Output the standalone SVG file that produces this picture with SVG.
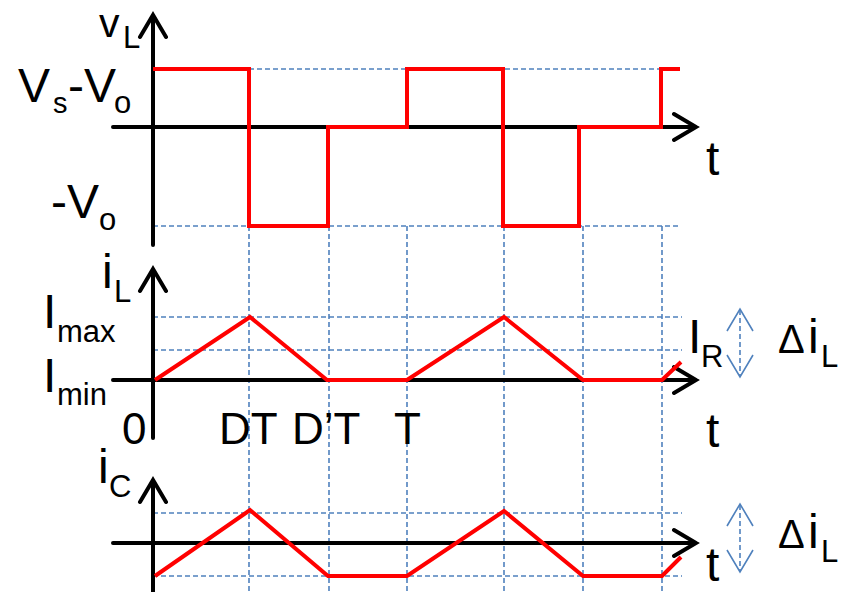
<svg xmlns="http://www.w3.org/2000/svg" width="850" height="592" viewBox="0 0 850 592">
<style>
.ax{fill:none;stroke:#000;stroke-width:4;stroke-linecap:round;stroke-linejoin:miter}
.grid{fill:none;stroke:#4f81bd;stroke-width:1.6;stroke-dasharray:5,3}
.sig{fill:none;stroke:#ff0000;stroke-width:4;stroke-linejoin:miter}
.dbl{fill:none;stroke:#4f81bd;stroke-width:1.6}
text{font-family:"Liberation Sans",Arial,sans-serif;fill:#000}
.big{font-size:48px}
.mid{font-size:44px}
.sub{font-size:31px}
.delta{font-size:40px}
</style>
<rect width="850" height="592" fill="#fff"/>
<g id="grid">
<path class="grid" d="M249,69H681M153,226H681M153,317H682M153,350H682M153,513H682M153,576H682"/>
<path class="grid" d="M249,226V592M329,226V592M407,226V592M504,226V592M583,226V592M662,226V592"/>
</g>
<g id="axes">
<path class="ax" d="M153,15V245M113,127H696M140,37L153,15L166,37M674,114L696,127L674,140"/>
<path class="ax" d="M153,269V438M113,380H696M140,291L153,269L166,291M674,367L696,380L674,393"/>
<path class="ax" d="M153,480V592M113,543H696M140,502L153,480L166,502M674,530L696,543L674,556"/>
</g>
<g id="signals">
<path class="sig" d="M153,69H249V226H328V127H407V69H503V226H579V127H661V69H680"/>
<path class="sig" d="M155,380L250,317L327,380H407L504,317L583,380H662L681,362"/>
<path class="sig" d="M155,576L250,510L328,576H407L504,511L583,576H662L681,557"/>
</g>
<g id="ripple-arrows">
<path class="grid" d="M740,310V376"/>
<path class="dbl" d="M727,331L740,309L753,331M727,355L740,377L753,355"/>
<path class="grid" d="M740,505V571"/>
<path class="dbl" d="M727,526L740,504L753,526M727,550L740,572L753,550"/>
</g>
<g id="labels">
<text y="37" style="font-size:41px"><tspan x="99">v</tspan><tspan class="sub" x="123" y="48">L</tspan></text>
<text class="big" y="102"><tspan x="18">V</tspan><tspan x="53" y="113" style="font-size:29px">s</tspan><tspan x="68" y="102">-V</tspan><tspan class="sub" x="114" y="113">o</tspan></text>
<text class="big" y="218"><tspan x="51">-V</tspan><tspan class="sub" x="99" y="230">o</tspan></text>
<text class="big" y="288"><tspan x="102">i</tspan><tspan class="sub" x="114" y="302">L</tspan></text>
<text class="big" y="328"><tspan x="43">I</tspan><tspan class="sub" x="57" y="342">max</tspan></text>
<text class="big" y="392"><tspan x="43">I</tspan><tspan class="sub" x="57" y="405">min</tspan></text>
<text class="mid" x="122" y="444">0</text>
<text class="mid" x="219" y="444">DT</text>
<text class="mid" x="292" y="444">D’T</text>
<text class="mid" x="394" y="444">T</text>
<text class="big" x="706" y="175">t</text>
<text class="big" x="706" y="447">t</text>
<text class="big" x="706" y="581">t</text>
<text class="big" y="353"><tspan x="688">I</tspan><tspan class="sub" x="701" y="367">R</tspan></text>
<text y="353"><tspan class="delta" x="778">Δ</tspan><tspan class="big" x="808">i</tspan><tspan class="sub" x="821" y="367">L</tspan></text>
<text class="big" y="483"><tspan x="98">i</tspan><tspan class="sub" x="109" y="497">C</tspan></text>
<text y="548"><tspan class="delta" x="778">Δ</tspan><tspan class="big" x="808">i</tspan><tspan class="sub" x="821" y="562">L</tspan></text>
</g>
</svg>
